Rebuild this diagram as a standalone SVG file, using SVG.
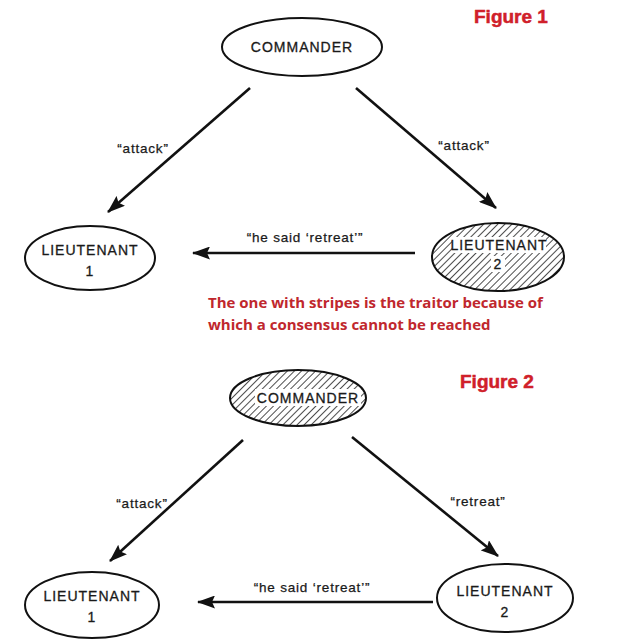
<svg xmlns="http://www.w3.org/2000/svg" width="622" height="643" viewBox="0 0 622 643">
<defs>
<pattern id="hatch" patternUnits="userSpaceOnUse" width="5" height="5" patternTransform="rotate(45)">
<rect width="5" height="5" fill="#fff"/>
<line x1="0" y1="0" x2="0" y2="5" stroke="#111" stroke-width="1.5"/>
</pattern>
<marker id="arrb" markerWidth="18" markerHeight="13" refX="17" refY="6.5" orient="auto" markerUnits="userSpaceOnUse" viewBox="0 0 18 13">
<path d="M0,0 L18,6.5 L0,13 L3,6.5 Z" fill="#111"/>
</marker>
</defs>
<style>
.node{fill:#fff;stroke:#111;stroke-width:2}
.hat{fill:url(#hatch);stroke:#111;stroke-width:2}
.lbl{font-family:"Liberation Sans",Arial,sans-serif;font-size:14px;letter-spacing:1px;fill:#1a1a1a;stroke:#1a1a1a;stroke-width:0.3;text-anchor:middle}
.msg{font-family:"Liberation Sans",Arial,sans-serif;font-size:13.5px;letter-spacing:0.8px;fill:#1a1a1a;stroke:#1a1a1a;stroke-width:0.25;text-anchor:middle}
.edge{stroke:#111;stroke-width:2.6;fill:none;marker-end:url(#arrb)}
.fig{font-family:"Liberation Sans",Arial,sans-serif;font-size:19px;font-weight:bold;fill:#d0202a;stroke:#d0202a;stroke-width:0.5}
.note{font-family:"Open Sans","Noto Sans",sans-serif;font-size:15px;font-weight:bold;fill:#c0272d}
.wb{fill:#fff}
</style>
<rect width="622" height="643" fill="#fff"/>

<text class="fig" x="474" y="23">Figure 1</text>
<text class="fig" x="460" y="388">Figure 2</text>

<g id="connectors">
<line class="edge" x1="250" y1="88" x2="108" y2="212"/>
<line class="edge" x1="356" y1="88" x2="496" y2="208"/>
<line class="edge" x1="415" y1="253" x2="193" y2="253"/>
<line class="edge" x1="243" y1="440" x2="110" y2="561"/>
<line class="edge" x1="352" y1="437" x2="498" y2="556"/>
<line class="edge" x1="433" y1="602" x2="198" y2="602"/>
<text class="msg" x="143" y="153">“attack”</text>
<text class="msg" x="464" y="150">“attack”</text>
<text class="msg" x="305" y="242">“he said ‘retreat’”</text>
<text class="msg" x="142" y="508">“attack”</text>
<text class="msg" x="478" y="506">“retreat”</text>
<text class="msg" x="312" y="592">“he said ‘retreat’”</text>
</g>

<g id="f1-commander">
<ellipse class="node" cx="302" cy="47" rx="80" ry="29"/>
<text class="lbl" x="302" y="52">COMMANDER</text>
</g>
<g id="f1-lieutenant1">
<ellipse class="node" cx="90" cy="258" rx="65" ry="32"/>
<text class="lbl" x="90" y="255">LIEUTENANT</text>
<text class="lbl" x="90" y="276">1</text>
</g>
<g id="f1-lieutenant2">
<ellipse class="hat" cx="498" cy="257" rx="66" ry="34"/>
<rect class="wb" x="452" y="237" width="94" height="16"/>
<rect class="wb" x="491" y="256" width="14" height="16"/>
<text class="lbl" x="499" y="250">LIEUTENANT</text>
<text class="lbl" x="498" y="269">2</text>
</g>

<g id="note">
<text class="note" x="208" y="308">The one with stripes is the traitor because of</text>
<text class="note" x="208" y="330">which a consensus cannot be reached</text>
</g>

<g id="f2-commander">
<ellipse class="hat" cx="298" cy="398" rx="68" ry="28"/>
<rect class="wb" x="255" y="389" width="106" height="17"/>
<text class="lbl" x="308" y="403">COMMANDER</text>
</g>
<g id="f2-lieutenant1">
<ellipse class="node" cx="92" cy="605" rx="67" ry="33"/>
<text class="lbl" x="92" y="601">LIEUTENANT</text>
<text class="lbl" x="92" y="622">1</text>
</g>
<g id="f2-lieutenant2">
<ellipse class="node" cx="505" cy="598" rx="68" ry="34"/>
<text class="lbl" x="505" y="596">LIEUTENANT</text>
<text class="lbl" x="505" y="617">2</text>
</g>
</svg>
